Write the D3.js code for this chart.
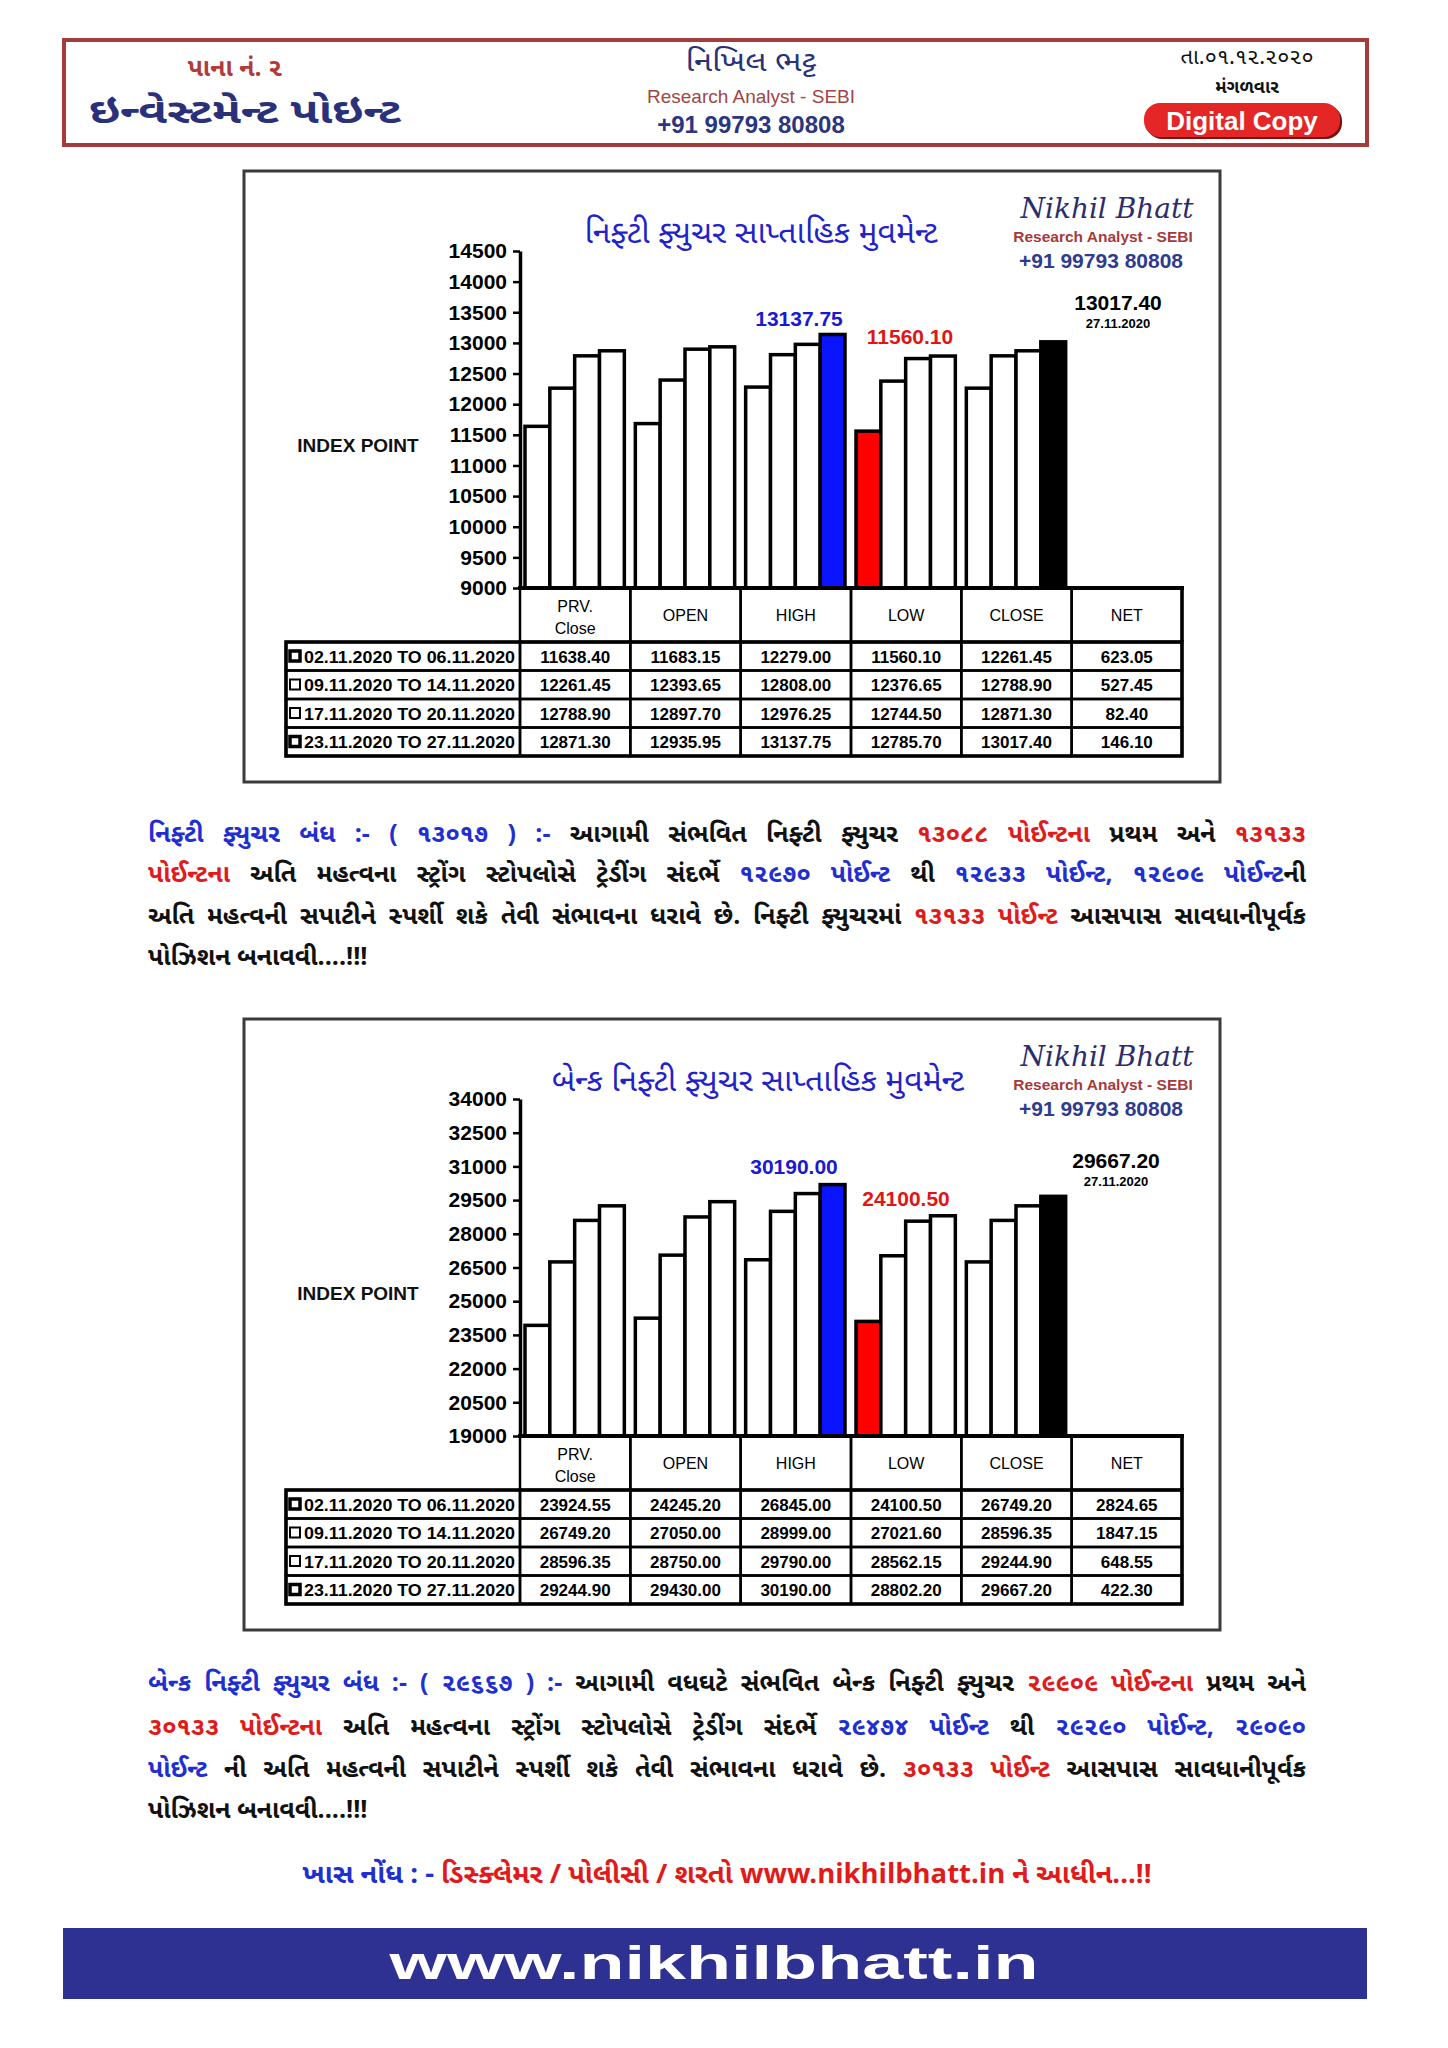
<!DOCTYPE html>
<html><head><meta charset="utf-8">
<script src="https://cdn.jsdelivr.net/npm/d3@7"></script>
<style>body{margin:0;background:#fff}svg{display:block}</style>
</head><body><script>
// ---------------- DATA ----------------
const categories = ["PRV. Close", "OPEN", "HIGH", "LOW", "CLOSE", "NET"];
const weeks = ["02.11.2020 TO 06.11.2020", "09.11.2020 TO 14.11.2020", "17.11.2020 TO 20.11.2020", "23.11.2020 TO 27.11.2020"];

const niftyPrvClose = [11638.40, 12261.45, 12788.90, 12871.30];
const niftyOpen     = [11683.15, 12393.65, 12897.70, 12935.95];
const niftyHigh     = [12279.00, 12808.00, 12976.25, 13137.75];
const niftyLow      = [11560.10, 12376.65, 12744.50, 12785.70];
const niftyClose    = [12261.45, 12788.90, 12871.30, 13017.40];
const niftyNet      = [623.05, 527.45, 82.40, 146.10];
const niftyTicks    = [9000, 9500, 10000, 10500, 11000, 11500, 12000, 12500, 13000, 13500, 14000, 14500];

const bankPrvClose = [23924.55, 26749.20, 28596.35, 29244.90];
const bankOpen     = [24245.20, 27050.00, 28750.00, 29430.00];
const bankHigh     = [26845.00, 28999.00, 29790.00, 30190.00];
const bankLow      = [24100.50, 27021.60, 28562.15, 28802.20];
const bankClose    = [26749.20, 28596.35, 29244.90, 29667.20];
const bankNet      = [2824.65, 1847.15, 648.55, 422.30];
const bankTicks    = [19000, 20500, 22000, 23500, 25000, 26500, 28000, 29500, 31000, 32500, 34000];

const lastDate = "27.11.2020";

// ---------------- SETUP ----------------
const GUJ = "'Noto Sans Gujarati','Lohit Gujarati','Shruti','Noto Sans',sans-serif";
const ARIAL = "'Liberation Sans',Arial,sans-serif";
const W = 1448, H = 2048;
const svg = d3.select("body").append("svg").attr("width", W).attr("height", H);
svg.append("rect").attr("width", W).attr("height", H).attr("fill", "#fff");

// ---------------- HEADER ----------------
svg.append("rect").attr("x", 64).attr("y", 40).attr("width", 1303).attr("height", 105)
  .attr("fill", "none").attr("stroke", "#a33c3c").attr("stroke-width", 4);
svg.append("text").attr("x", 235).attr("y", 76).attr("text-anchor", "middle")
  .attr("font-family", GUJ).attr("font-size", 25).attr("font-weight", "bold").attr("fill", "#b23a3a")
  .text("પાના નં. ૨");
svg.append("text").attr("x", 245).attr("y", 123).attr("text-anchor", "middle")
  .attr("font-family", GUJ).attr("font-size", 34).attr("font-weight", "bold").attr("fill", "#2b3179")
  .attr("textLength", 312).attr("lengthAdjust", "spacingAndGlyphs")
  .text("ઇન્વેસ્ટમેન્ટ પોઇન્ટ");
svg.append("text").attr("x", 751).attr("y", 71).attr("text-anchor", "middle")
  .attr("font-family", GUJ).attr("font-size", 28).attr("fill", "#2b3179")
  .attr("textLength", 131).attr("lengthAdjust", "spacingAndGlyphs")
  .text("નિખિલ ભટ્ટ");
svg.append("text").attr("x", 751).attr("y", 103).attr("text-anchor", "middle")
  .attr("font-family", ARIAL).attr("font-size", 19).attr("fill", "#a04545")
  .text("Research Analyst - SEBI");
svg.append("text").attr("x", 751).attr("y", 133).attr("text-anchor", "middle")
  .attr("font-family", ARIAL).attr("font-size", 24).attr("font-weight", "bold").attr("fill", "#2c3580")
  .text("+91 99793 80808");
svg.append("text").attr("x", 1247).attr("y", 64).attr("text-anchor", "middle")
  .attr("font-family", GUJ).attr("font-size", 22).attr("fill", "#111")
  .text("તા.૦૧.૧૨.૨૦૨૦");
svg.append("text").attr("x", 1247).attr("y", 93).attr("text-anchor", "middle")
  .attr("font-family", GUJ).attr("font-size", 18).attr("font-weight", "bold").attr("fill", "#111")
  .text("મંગળવાર");
svg.append("rect").attr("x", 1146).attr("y", 105).attr("width", 196).attr("height", 34).attr("rx", 16)
  .attr("fill", "#7a1010");
svg.append("rect").attr("x", 1144).attr("y", 103).attr("width", 196).attr("height", 34).attr("rx", 16)
  .attr("fill", "#e52626");
svg.append("text").attr("x", 1242).attr("y", 130).attr("text-anchor", "middle")
  .attr("font-family", ARIAL).attr("font-size", 26).attr("font-weight", "bold").attr("fill", "#fff")
  .text("Digital Copy");

// ---------------- CHART ----------------
function drawChart(cfg) {
  const oy = cfg.oy;
  const g = svg.append("g");
  g.append("rect").attr("x", 244).attr("y", 171 + oy).attr("width", 976).attr("height", 611)
    .attr("fill", "#fff").attr("stroke", "#3a3a3a").attr("stroke-width", 3);

  const y = d3.scaleLinear().domain(cfg.domain).range([588 + oy, 251 + oy]);
  const x = d3.scaleBand().domain(categories).range([520, 1182]).padding(0);
  const bw = x.bandwidth();
  const xi = d3.scaleBand().domain(d3.range(4)).range([5, bw - 6]).padding(0);
  const y0 = y(cfg.domain[0]);

  // title & branding
  g.append("text").attr("x", cfg.titleX).attr("y", 243 + oy).attr("text-anchor", "middle")
    .attr("font-family", GUJ).attr("font-size", 32).attr("fill", "#2222c8").text(cfg.title);
  g.append("text").attr("x", 1107).attr("y", 218 + oy).attr("text-anchor", "middle")
    .attr("font-family", "'DejaVu Serif','Liberation Serif',serif").attr("font-style", "italic")
    .attr("font-size", 28).attr("fill", "#2b2d6e").text("Nikhil Bhatt");
  g.append("text").attr("x", 1103).attr("y", 242 + oy).attr("text-anchor", "middle")
    .attr("font-family", ARIAL).attr("font-size", 15.5).attr("font-weight", "bold").attr("fill", "#a63a3a")
    .text("Research Analyst - SEBI");
  g.append("text").attr("x", 1101).attr("y", 268 + oy).attr("text-anchor", "middle")
    .attr("font-family", ARIAL).attr("font-size", 21).attr("font-weight", "bold").attr("fill", "#2e3b8e")
    .text("+91 99793 80808");

  // y axis label
  g.append("text").attr("x", 358).attr("y", 452 + oy).attr("text-anchor", "middle")
    .attr("font-family", ARIAL).attr("font-size", 19).attr("font-weight", "bold").attr("fill", "#111")
    .text("INDEX POINT");

  // bars
  const cols = cfg.columns;
  categories.forEach((cat, ci) => {
    const vals = cols[ci];
    if (!vals) return;
    g.selectAll(null).data(vals).enter().append("rect")
      .attr("x", (d, i) => x(cat) + xi(i))
      .attr("y", d => y(d))
      .attr("width", xi.bandwidth())
      .attr("height", d => y0 - y(d))
      .attr("fill", (d, i) => (cfg.fills[ci] && cfg.fills[ci][i]) || "#fff")
      .attr("stroke", "#000").attr("stroke-width", 3.5);
  });

  // axis
  const axis = d3.axisLeft(y).tickValues(cfg.ticks).tickSize(7).tickSizeOuter(0).tickPadding(6)
    .tickFormat(d3.format("d"));
  const ag = g.append("g").attr("transform", `translate(520,0)`).call(axis);
  ag.select(".domain").attr("stroke", "#000").attr("stroke-width", 3.5);
  ag.selectAll(".tick line").attr("stroke", "#000").attr("stroke-width", 2.5);
  ag.selectAll(".tick text").attr("font-family", ARIAL).attr("font-size", 21)
    .attr("font-weight", "bold").attr("fill", "#000");
  g.append("line").attr("x1", 518).attr("x2", 1184).attr("y1", y0).attr("y2", y0)
    .attr("stroke", "#000").attr("stroke-width", 4);

  // annotations
  const ann = cfg.ann;
  g.append("text").attr("x", ann.hx).attr("y", ann.hy + oy).attr("text-anchor", "middle")
    .attr("font-family", ARIAL).attr("font-size", 21).attr("font-weight", "bold").attr("fill", "#1a1ad0")
    .text(d3.format(".2f")(cols[2][3]));
  g.append("text").attr("x", ann.lx).attr("y", ann.ly + oy).attr("text-anchor", "middle")
    .attr("font-family", ARIAL).attr("font-size", 21).attr("font-weight", "bold").attr("fill", "#e01515")
    .text(d3.format(".2f")(cols[3][0]));
  g.append("text").attr("x", ann.cx).attr("y", ann.cy + oy).attr("text-anchor", "middle")
    .attr("font-family", ARIAL).attr("font-size", 21).attr("font-weight", "bold").attr("fill", "#000")
    .text(d3.format(".2f")(cols[4][3]));
  g.append("text").attr("x", ann.cx).attr("y", ann.dy + oy).attr("text-anchor", "middle")
    .attr("font-family", ARIAL).attr("font-size", 13).attr("font-weight", "bold").attr("fill", "#000")
    .text(lastDate);

  // table
  const hTop = y0, hH = 54, rH = 28.5;
  const TF = ARIAL;
  categories.forEach((cat, ci) => {
    g.append("rect").attr("x", x(cat)).attr("y", hTop).attr("width", bw).attr("height", hH)
      .attr("fill", "none").attr("stroke", "#000").attr("stroke-width", 2.5);
    const cx = x(cat) + bw / 2;
    if (cat === "PRV. Close") {
      g.append("text").attr("x", cx).attr("y", hTop + 24).attr("text-anchor", "middle")
        .attr("font-family", TF).attr("font-size", 16).attr("fill", "#000").text("PRV.");
      g.append("text").attr("x", cx).attr("y", hTop + 46).attr("text-anchor", "middle")
        .attr("font-family", TF).attr("font-size", 16).attr("fill", "#000").text("Close");
    } else {
      g.append("text").attr("x", cx).attr("y", hTop + 33).attr("text-anchor", "middle")
        .attr("font-family", TF).attr("font-size", 16).attr("fill", "#000").text(cat);
    }
  });
  weeks.forEach((wk, wi) => {
    const top = hTop + hH + wi * rH;
    g.append("rect").attr("x", 286).attr("y", top).attr("width", 234).attr("height", rH)
      .attr("fill", "none").attr("stroke", "#000").attr("stroke-width", 2.5);
    g.append("rect").attr("x", 290).attr("y", top + 9).attr("width", 10).attr("height", 10)
      .attr("fill", "#fff").attr("stroke", "#000").attr("stroke-width", wi === 0 || wi === 3 ? 3.5 : 2);
    g.append("text").attr("x", 304).attr("y", top + 20.5)
      .attr("font-family", TF).attr("font-size", 17).attr("font-weight", "bold").attr("fill", "#000")
      .attr("textLength", 211).attr("lengthAdjust", "spacingAndGlyphs").text(wk);
    categories.forEach((cat, ci) => {
      g.append("rect").attr("x", x(cat)).attr("y", top).attr("width", bw).attr("height", rH)
        .attr("fill", "none").attr("stroke", "#000").attr("stroke-width", 2.5);
      g.append("text").attr("x", x(cat) + bw / 2).attr("y", top + 20.5).attr("text-anchor", "middle")
        .attr("font-family", TF).attr("font-size", 17).attr("font-weight", "bold").attr("fill", "#000")
        .text(d3.format(".2f")(cfg.table[ci][wi]));
    });
  });
  g.append("rect").attr("x", 286).attr("y", hTop + hH).attr("width", 1182 - 286).attr("height", rH * 4)
    .attr("fill", "none").attr("stroke", "#000").attr("stroke-width", 3.5);
  g.append("line").attr("x1", 1182).attr("x2", 1182).attr("y1", hTop).attr("y2", hTop + hH)
    .attr("stroke", "#000").attr("stroke-width", 3.5);
}

drawChart({
  oy: 0,
  domain: [9000, 14500],
  ticks: niftyTicks,
  title: "નિફ્ટી ફ્યુચર સાપ્તાહિક મુવમેન્ટ",
  titleX: 761,
  columns: [niftyPrvClose, niftyOpen, niftyHigh, niftyLow, niftyClose, null],
  table: [niftyPrvClose, niftyOpen, niftyHigh, niftyLow, niftyClose, niftyNet],
  fills: [null, null, [null, null, null, "#0a14ff"], ["#ff0000"], [null, null, null, "#000"]],
  ann: { hx: 799, hy: 326, lx: 910, ly: 344, cx: 1118, cy: 310, dy: 328 }
});
drawChart({
  oy: 848,
  domain: [19000, 34000],
  ticks: bankTicks,
  title: "બેન્ક નિફ્ટી ફ્યુચર સાપ્તાહિક મુવમેન્ટ",
  titleX: 758,
  columns: [bankPrvClose, bankOpen, bankHigh, bankLow, bankClose, null],
  table: [bankPrvClose, bankOpen, bankHigh, bankLow, bankClose, bankNet],
  fills: [null, null, [null, null, null, "#0a14ff"], ["#ff0000"], [null, null, null, "#000"]],
  ann: { hx: 794, hy: 326, lx: 906, ly: 358, cx: 1116, cy: 320, dy: 338 }
});

// ---------------- PARAGRAPHS ----------------
const BLUE = "#1f2fd0", RED = "#e01b1b", BLK = "#111";
const para1 = [
  [[BLUE, "નિફ્ટી ફ્યુચર બંધ :- ( ૧૩૦૧૭ ) :-"], [BLK, " આગામી સંભવિત નિફ્ટી ફ્યુચર "], [RED, "૧૩૦૮૮ પોઈન્ટના"], [BLK, " પ્રથમ અને "], [RED, "૧૩૧૩૩"]],
  [[RED, "પોઈન્ટના"], [BLK, " અતિ મહત્વના સ્ટ્રોંગ સ્ટોપલોસે ટ્રેડીંગ સંદર્ભે "], [BLUE, "૧૨૯૭૦ પોઈન્ટ"], [BLK, " થી "], [BLUE, "૧૨૯૩૩ પોઈન્ટ, ૧૨૯૦૯ પોઈન્ટ"], [BLK, "ની"]],
  [[BLK, "અતિ મહત્વની સપાટીને સ્પર્શી શકે તેવી સંભાવના ધરાવે છે. નિફ્ટી ફ્યુચરમાં "], [RED, "૧૩૧૩૩ પોઈન્ટ"], [BLK, " આસપાસ સાવધાનીપૂર્વક"]],
  [[BLK, "પોઝિશન બનાવવી....!!!"]]
];
const para2 = [
  [[BLUE, "બેન્ક નિફ્ટી ફ્યુચર બંધ :- ( ૨૯૬૬૭ ) :-"], [BLK, " આગામી વધઘટે સંભવિત બેન્ક નિફ્ટી ફ્યુચર "], [RED, "૨૯૯૦૯ પોઈન્ટના"], [BLK, " પ્રથમ અને"]],
  [[RED, "૩૦૧૩૩ પોઈન્ટના"], [BLK, " અતિ મહત્વના સ્ટ્રોંગ સ્ટોપલોસે ટ્રેડીંગ સંદર્ભે "], [BLUE, "૨૯૪૭૪ પોઈન્ટ"], [BLK, " થી "], [BLUE, "૨૯૨૯૦ પોઈન્ટ, ૨૯૦૯૦"]],
  [[BLUE, "પોઈન્ટ"], [BLK, " ની અતિ મહત્વની સપાટીને સ્પર્શી શકે તેવી સંભાવના ધરાવે છે. "], [RED, "૩૦૧૩૩ પોઈન્ટ"], [BLK, " આસપાસ સાવધાનીપૂર્વક"]],
  [[BLK, "પોઝિશન બનાવવી....!!!"]]
];
function drawPara(lines, baselines) {
  lines.forEach((segs, li) => {
    const t = svg.append("text").attr("x", 148).attr("y", baselines[li])
      .attr("font-family", GUJ).attr("font-size", 25).attr("font-weight", "bold")
      .style("white-space", "pre");
    segs.forEach(s => t.append("tspan").attr("fill", s[0]).text(s[1]));
    if (li < lines.length - 1) {
      const full = segs.map(s => s[1]).join("");
      const n = (full.match(/ /g) || []).length;
      const w = t.node().getComputedTextLength();
      if (n > 0) t.attr("word-spacing", (1158 - w) / n);
    }
  });
}
drawPara(para1, [842, 882, 924, 965]);
drawPara(para2, [1691, 1735, 1777, 1818]);

// disclaimer
const disc = svg.append("text").attr("x", 727).attr("y", 1883).attr("text-anchor", "middle")
  .attr("font-family", GUJ).attr("font-size", 27).attr("font-weight", "bold")
  .attr("textLength", 849).attr("lengthAdjust", "spacingAndGlyphs")
  .style("white-space", "pre");
disc.append("tspan").attr("fill", "#1f2fd0").text("ખાસ નોંધ : -");
disc.append("tspan").attr("fill", "#e01b1b").text(" ડિસ્ક્લેમર / પોલીસી / શરતો www.nikhilbhatt.in ને આધીન...!!");

// footer
svg.append("rect").attr("x", 63).attr("y", 1928).attr("width", 1304).attr("height", 71).attr("fill", "#2e3192");
svg.append("text").attr("x", 714).attr("y", 1979).attr("text-anchor", "middle")
  .attr("font-family", ARIAL).attr("font-size", 46).attr("font-weight", "bold").attr("fill", "#fff")
  .attr("textLength", 649).attr("lengthAdjust", "spacingAndGlyphs")
  .text("www.nikhilbhatt.in");
</script></body></html>
